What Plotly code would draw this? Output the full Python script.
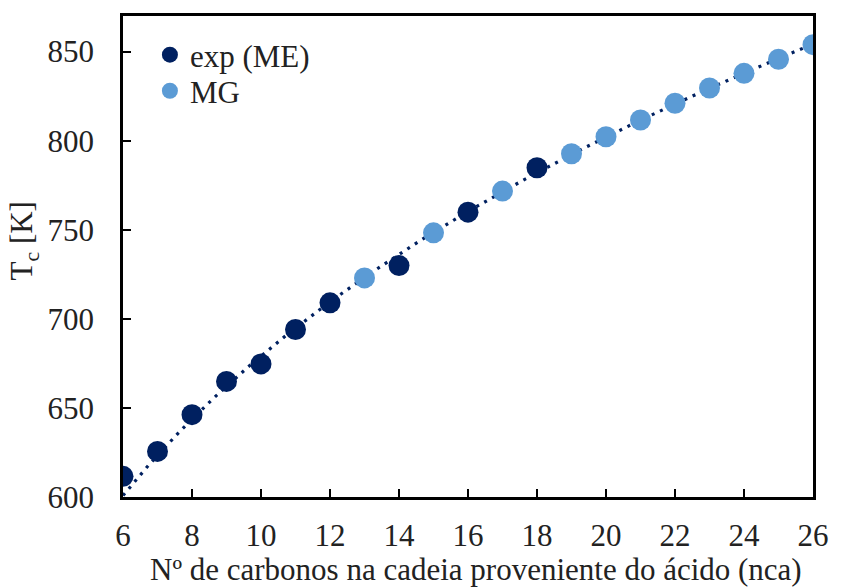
import numpy as np
import plotly.graph_objects as go

# Data
exp_nca = [6, 7, 8, 9, 10, 11, 12, 14, 16, 18]
exp_tc = [611.6, 625.6, 646.2, 664.9, 674.7, 694.0, 709.0, 729.9, 759.9, 784.8]

mg_nca = [13, 15, 17, 19, 20, 21, 22, 23, 24, 25, 26]
mg_tc = [723.0, 748.3, 771.7, 792.7, 802.2, 811.6, 821.0, 829.6, 837.8, 845.7, 853.9]

x_ticks = [6, 8, 10, 12, 14, 16, 18, 20, 22, 24, 26]
y_ticks = [600, 650, 700, 750, 800, 850]

DARK = "#002060"
LIGHT = "#5B9BD5"
TXT = "#222222"
FONT = "Liberation Serif, Times New Roman, serif"
FS = 31

# Power-law trend line fitted to the MG series (log-log linear fit)
b, ln_a = np.polyfit(np.log(mg_nca), np.log(mg_tc), 1)
tx = np.linspace(6, 26, 200)
ty = np.exp(ln_a) * tx ** b

fig = go.Figure()
fig.add_trace(go.Scatter(
    x=tx, y=ty, mode="lines", showlegend=False, hoverinfo="skip",
    line=dict(color=DARK, width=3.2, dash="3px,6px"),
))
fig.add_trace(go.Scatter(
    x=exp_nca, y=exp_tc, mode="markers", name="exp (ME)", legend="legend",
    marker=dict(color=DARK, size=21, line=dict(width=0)),
))
fig.add_trace(go.Scatter(
    x=mg_nca, y=mg_tc, mode="markers", name="MG", legend="legend2",
    marker=dict(color=LIGHT, size=21, line=dict(width=0)),
))

leg_common = dict(
    xanchor="left", yanchor="top", bgcolor="rgba(0,0,0,0)",
    font=dict(size=FS, family=FONT, color=TXT), itemsizing="trace",
)

fig.update_layout(
    width=841, height=587,
    margin=dict(l=123, r=16, t=16, b=90),
    paper_bgcolor="white", plot_bgcolor="white",
    font=dict(family=FONT, size=FS, color=TXT),
    legend=dict(x=0.039, y=0.975, **leg_common),
    legend2=dict(x=0.039, y=0.900, **leg_common),
    annotations=[
        dict(
            text="T<sub>c</sub> [K]", xref="paper", yref="paper",
            x=-0.143, y=0.532, xanchor="center", yanchor="middle",
            textangle=-90, showarrow=False,
            font=dict(size=FS, family=FONT, color=TXT),
        ),
        dict(
            text="Nº de carbonos na cadeia proveniente do ácido (nca)",
            xref="paper", yref="paper", x=0.512, y=-0.150,
            xanchor="center", yanchor="middle", showarrow=False,
            font=dict(size=FS, family=FONT, color=TXT),
        ),
    ],
)
fig.update_xaxes(
    range=[6, 26], tickvals=x_ticks, ticks="inside", ticklen=8, tickwidth=2,
    tickcolor="black", showline=True, linecolor="black", linewidth=2.5,
    mirror=True, showgrid=False, zeroline=False, ticklabelstandoff=9,
    tickfont=dict(size=FS, family=FONT, color=TXT),
)
fig.update_yaxes(
    range=[600, 870], tickvals=y_ticks, ticks="inside", ticklen=8, tickwidth=2,
    tickcolor="black", showline=True, linecolor="black", linewidth=2.5,
    mirror=True, showgrid=False, zeroline=False, ticklabelstandoff=20,
    tickfont=dict(size=FS, family=FONT, color=TXT),
)

fig.write_html("out.html")
